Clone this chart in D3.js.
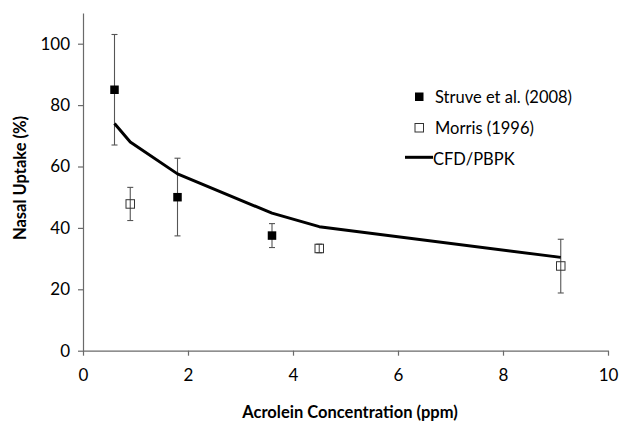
<!DOCTYPE html>
<html>
<head>
<meta charset="utf-8">
<script src="https://cdn.jsdelivr.net/npm/d3@7"></script>
<style>
  body { margin: 0; background: #fff; }
  text { font-family: Lato, "Open Sans", sans-serif; }
</style>
</head>
<body>
<script>
'use strict';

// Struve et al. (2008) - filled squares
const struveX = [0.6, 1.8, 3.6];
const struveY = [85, 50, 37.5];
const struveLo = [67, 37.4, 33.6];
const struveHi = [103, 62.7, 41.4];

// Morris (1996) - open squares
const morrisX = [0.9, 4.5, 9.1];
const morrisY = [47.8, 33.3, 27.6];
const morrisLo = [42.4, 31.9, 18.8];
const morrisHi = [53.2, 34.7, 36.3];

// CFD/PBPK model line
const cfdX = [0.6, 0.9, 1.8, 3.6, 4.5, 9.1];
const cfdY = [74, 68, 57.6, 44.8, 40.4, 30.4];

const xTicks = [0, 2, 4, 6, 8, 10];
const yTicks = [0, 20, 40, 60, 80, 100];

const legendLabels = ["Struve et al. (2008)", "Morris (1996)", "CFD/PBPK"];

const svg = d3.select('body').append('svg')
    .attr('width', 620)
    .attr('height', 421);

// scales
const x = d3.scaleLinear().domain([0, 10]).range([83, 608]);
const y = d3.scaleLinear().domain([0, 110]).range([350.7, 13]);

// x axis
const xAxis = svg.append('g')
    .attr('transform', 'translate(0,' + y(0) + ')')
    .call(d3.axisBottom(x).tickValues(xTicks).tickSize(5).tickPadding(13).tickSizeOuter(0));

// y axis
const yAxis = svg.append('g')
    .attr('transform', 'translate(' + x(0) + ',0)')
    .call(d3.axisLeft(y).tickValues(yTicks).tickSize(5).tickPadding(8).tickSizeOuter(0));

[xAxis, yAxis].forEach(function(g) {
    g.select('.domain').attr('stroke', '#6a6a6a').attr('stroke-width', 1.2);
    g.selectAll('.tick line').attr('stroke', '#6a6a6a').attr('stroke-width', 1.2);
    g.selectAll('.tick text')
        .attr('fill', '#000')
        .style('font-size', '17px')
        .style('font-family', 'Lato, sans-serif');
});

// axis titles
svg.append('text')
    .attr('x', 350)
    .attr('y', 418)
    .attr('text-anchor', 'middle')
    .style('font-size', '16.5px')
    .style('font-weight', 'bold')
    .text('Acrolein Concentration (ppm)');

svg.append('text')
    .attr('transform', 'translate(26,178)rotate(-90)')
    .attr('text-anchor', 'middle')
    .style('font-size', '16.5px')
    .style('font-weight', 'bold')
    .text('Nasal Uptake (%)');

// error bars
function drawErrors(xs, lo, hi) {
    const g = svg.append('g')
        .attr('stroke', '#555')
        .attr('stroke-width', 1.1);
    xs.forEach(function(d, i) {
        g.append('line')
            .attr('x1', x(d)).attr('x2', x(d))
            .attr('y1', y(lo[i])).attr('y2', y(hi[i]));
        [lo[i], hi[i]].forEach(function(v) {
            g.append('line')
                .attr('x1', x(d) - 3).attr('x2', x(d) + 3)
                .attr('y1', y(v)).attr('y2', y(v));
        });
    });
}
drawErrors(struveX, struveLo, struveHi);
drawErrors(morrisX, morrisLo, morrisHi);

// model line
const line = d3.line()
    .x(function(d) { return x(d[0]); })
    .y(function(d) { return y(d[1]); });

svg.append('path')
    .datum(d3.zip(cfdX, cfdY))
    .attr('fill', 'none')
    .attr('stroke', '#000')
    .attr('stroke-width', 3)
    .attr('stroke-linejoin', 'round')
    .attr('d', line);

// markers
const s = 8.5;
svg.selectAll('.struve')
    .data(d3.zip(struveX, struveY))
    .enter()
    .append('rect')
    .attr('x', function(d) { return x(d[0]) - s / 2; })
    .attr('y', function(d) { return y(d[1]) - s / 2; })
    .attr('width', s)
    .attr('height', s)
    .attr('fill', '#000');

svg.selectAll('.morris')
    .data(d3.zip(morrisX, morrisY))
    .enter()
    .append('rect')
    .attr('x', function(d) { return x(d[0]) - s / 2; })
    .attr('y', function(d) { return y(d[1]) - s / 2; })
    .attr('width', s)
    .attr('height', s)
    .attr('fill', 'none')
    .attr('stroke', '#333')
    .attr('stroke-width', 1);

// legend
const legend = svg.append('g');
legend.append('rect')
    .attr('x', 415).attr('y', 92.5)
    .attr('width', s).attr('height', s)
    .attr('fill', '#000');
legend.append('rect')
    .attr('x', 415).attr('y', 123.5)
    .attr('width', s).attr('height', s)
    .attr('fill', 'none').attr('stroke', '#333').attr('stroke-width', 1);
legend.append('line')
    .attr('x1', 405).attr('x2', 433)
    .attr('y1', 157.3).attr('y2', 157.3)
    .attr('stroke', '#000').attr('stroke-width', 3);

legend.selectAll('.lbl')
    .data(legendLabels)
    .enter()
    .append('text')
    .attr('x', function(d, i) { return i === 2 ? 433 : 435; })
    .attr('y', function(d, i) { return 103 + i * 31; })
    .style('font-size', '16.5px')
    .text(function(d) { return d; });
</script>
</body>
</html>
